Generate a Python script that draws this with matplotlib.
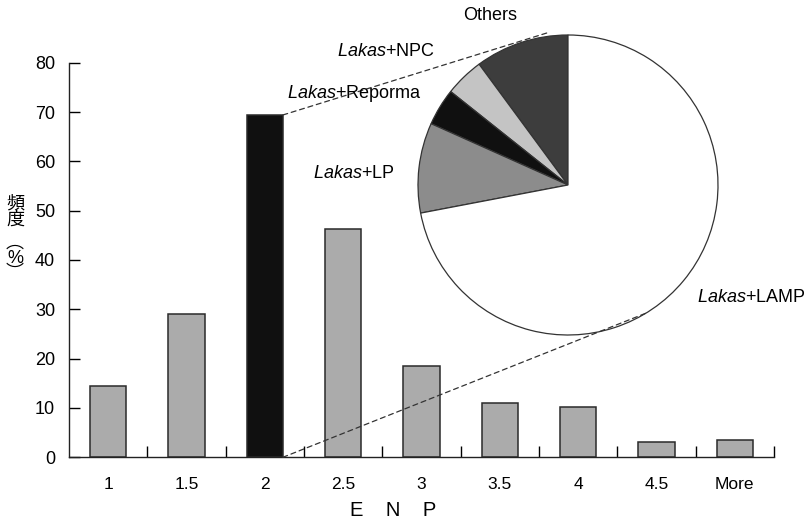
import matplotlib
matplotlib.use("Agg")
import matplotlib.pyplot as plt
from matplotlib.patches import ConnectionPatch

plt.rcParams['font.family'] = ['Liberation Sans', 'Noto Sans CJK JP', 'DejaVu Sans']
plt.rcParams['mathtext.fontset'] = 'custom'
plt.rcParams['mathtext.rm'] = 'Liberation Sans'
plt.rcParams['mathtext.it'] = 'Liberation Sans:italic'

# ENP histogram (frequency %)
enp_labels = ["1", "1.5", "2", "2.5", "3", "3.5", "4", "4.5", "More"]
enp_freq = [14.4, 29.1, 69.4, 46.3, 18.5, 11.0, 10.1, 3.2, 3.5]

# party composition for ENP = 2 (pie, counterclockwise from top)
pie_labels = ["Others", "Lakas+NPC", "Lakas+Reporma", "Lakas+LP", "Lakas+LAMP"]
pie_share = [10.1, 4.2, 4.0, 9.7, 72.0]
pie_colors = ["#3d3d3d", "#c4c4c4", "#101010", "#8c8c8c", "#ffffff"]

W, H = 811, 523
fig = plt.figure(figsize=(W / 100, H / 100), dpi=100)

# main bar axes, placed in pixels
ax = fig.add_axes([69 / W, 1 - 457.3 / H, (774 - 69) / W, (457.3 - 62.7) / H])
xs = list(range(len(enp_labels)))
bar_colors = ["#101010" if lab == "2" else "#ababab" for lab in enp_labels]
ax.bar(xs, enp_freq, width=0.46, color=bar_colors, edgecolor="#2a2a2a", linewidth=1.1)
ax.set_xlim(-0.5, len(xs) - 0.5)
ax.set_ylim(0, 80)
ax.set_yticks(range(0, 81, 10))
ax.set_xticks([x + 0.5 for x in xs])
ax.set_xticklabels([])
ax.set_xticks(xs, minor=True)
ax.set_xticklabels(enp_labels, minor=True)
ax.tick_params(axis="x", which="major", direction="in", length=8, width=1.0)
ax.tick_params(axis="x", which="minor", length=0, pad=14, labelsize=12.5)
ax.tick_params(axis="y", direction="in", length=8, width=1.0, pad=10, labelsize=13)
for s in ["top", "right"]:
    ax.spines[s].set_visible(False)
for s in ["left", "bottom"]:
    ax.spines[s].set_linewidth(1.0)
    ax.spines[s].set_color("#222222")

ax.set_xlabel("E    N    P", fontsize=14.5)
ax.xaxis.set_label_coords((393 - 69) / 705, -0.11)

# vertical Japanese y label
fig.text(15 / W, 1 - 212 / H, "頻\n度", fontsize=13, ha="center", va="center", linespacing=1.0)
fig.text(15 / W, 1 - 258 / H, "︵\n%\n︶", fontsize=13, ha="center", va="center", linespacing=0.85)

# pie inset
cx, cy, r = 568, 185, 153
pax = fig.add_axes([(cx - r) / W, 1 - (cy + r) / H, 2 * r / W, 2 * r / H])
pax.pie(pie_share, colors=pie_colors, startangle=90, counterclock=True,
        wedgeprops=dict(edgecolor="#333333", linewidth=0.9))
pax.set_xlim(-1.02, 1.02)
pax.set_ylim(-1.02, 1.02)
pax.set_aspect("equal")
pax.axis("off")

# dashed lines from the ENP=2 bar to the pie
i2 = enp_labels.index("2")
for ybar, ppt in [(enp_freq[i2], (-0.12, 1.02)), (0, (0.516, -0.856))]:
    con = ConnectionPatch(xyA=(i2 + 0.23, ybar), coordsA=ax.transData,
                          xyB=ppt, coordsB=pax.transData,
                          linestyle=(0, (4, 3)), linewidth=0.9, color="#333333")
    fig.add_artist(con)

# pie labels
label_pos = {
    "Others": (490, 15, "center"),
    "Lakas+NPC": (337, 51, "left"),
    "Lakas+Reporma": (287, 94, "left"),
    "Lakas+LP": (313, 174, "left"),
    "Lakas+LAMP": (697, 298, "left"),
}
for lab in pie_labels:
    px, py, ha = label_pos[lab]
    if lab.startswith("Lakas+"):
        txt = r"$\it{Lakas}$+" + lab.split("+")[1]
    else:
        txt = lab
    fig.text(px / W, 1 - py / H, txt, fontsize=13, ha=ha, va="center")

fig.savefig("out.png", dpi=100)
